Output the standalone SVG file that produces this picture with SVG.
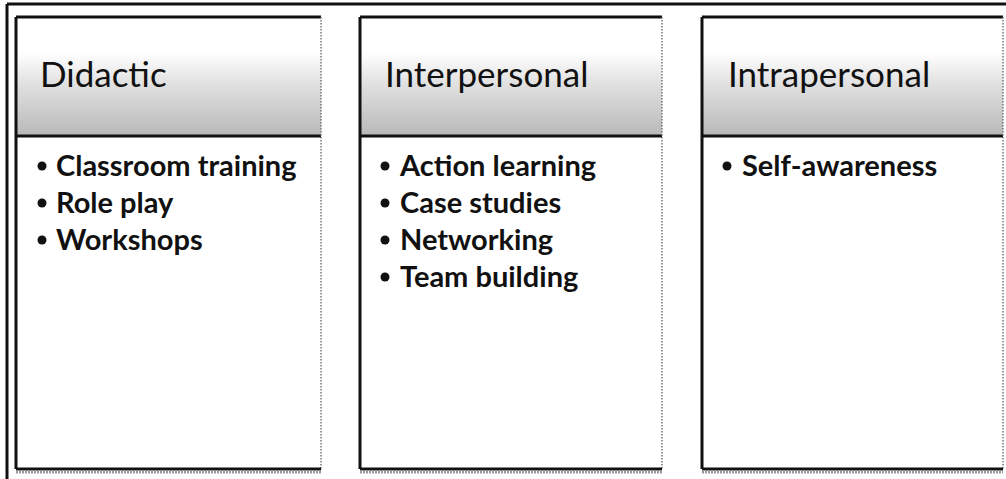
<svg xmlns="http://www.w3.org/2000/svg" width="1006" height="479" viewBox="0 0 1006 479">
<style>
.title{font-family:Lato,"Liberation Sans",sans-serif;font-size:35px;fill:#111}
.item{font-family:Lato,"Liberation Sans",sans-serif;font-size:29px;font-weight:bold;fill:#111}
.edge{stroke:#111;stroke-width:3;fill:none}
.side{stroke:#777;stroke-width:1.5;stroke-dasharray:1.5 1.5;fill:none}
.shadow{stroke:#999;stroke-width:3;stroke-dasharray:2 1;fill:none}
.bullet{fill:#111}
</style>
<defs>
<linearGradient id="hdr" x1="0" y1="0" x2="0" y2="1">
<stop offset="0" stop-color="#ffffff"/>
<stop offset="0.3" stop-color="#ffffff"/>
<stop offset="0.55" stop-color="#e2e2e2"/>
<stop offset="1" stop-color="#b8b8b8"/>
</linearGradient>
</defs>
<g id="frame">
<line x1="7" y1="4" x2="1006" y2="4" class="edge" stroke-width="2.5"/>
<line x1="7" y1="4" x2="7" y2="479" class="edge" stroke-width="2.5"/>
</g>
<g id="didactic">
<rect x="16" y="17" width="305" height="119" fill="url(#hdr)"/>
<rect x="16" y="136" width="305" height="333" fill="#fff"/>
<line x1="16" y1="17" x2="321" y2="17" class="edge"/>
<line x1="16" y1="17" x2="16" y2="469" class="edge"/>
<line x1="16" y1="136" x2="321" y2="136" class="edge"/>
<line x1="321" y1="17" x2="321" y2="469" class="side"/>
<line x1="16" y1="469" x2="321" y2="469" class="edge"/>
<line x1="16" y1="472" x2="321" y2="472" class="shadow"/>
<text x="40" y="87" class="title">Didactic</text>
<circle cx="42" cy="166" r="4.5" class="bullet"/>
<text x="56" y="176" class="item">Classroom training</text>
<circle cx="42" cy="203" r="4.5" class="bullet"/>
<text x="56" y="213" class="item">Role play</text>
<circle cx="42" cy="240" r="4.5" class="bullet"/>
<text x="56" y="250" class="item">Workshops</text>
</g>
<g id="interpersonal">
<rect x="360" y="17" width="302" height="119" fill="url(#hdr)"/>
<rect x="360" y="136" width="302" height="333" fill="#fff"/>
<line x1="360" y1="17" x2="662" y2="17" class="edge"/>
<line x1="360" y1="17" x2="360" y2="469" class="edge"/>
<line x1="360" y1="136" x2="662" y2="136" class="edge"/>
<line x1="662" y1="17" x2="662" y2="469" class="side"/>
<line x1="360" y1="469" x2="662" y2="469" class="edge"/>
<line x1="360" y1="472" x2="662" y2="472" class="shadow"/>
<text x="385" y="87" class="title">Interpersonal</text>
<circle cx="385" cy="166" r="4.5" class="bullet"/>
<text x="400" y="176" class="item">Action learning</text>
<circle cx="385" cy="203" r="4.5" class="bullet"/>
<text x="400" y="213" class="item">Case studies</text>
<circle cx="385" cy="240" r="4.5" class="bullet"/>
<text x="400" y="250" class="item">Networking</text>
<circle cx="385" cy="277" r="4.5" class="bullet"/>
<text x="400" y="287" class="item">Team building</text>
</g>
<g id="intrapersonal">
<rect x="702" y="17" width="301" height="119" fill="url(#hdr)"/>
<rect x="702" y="136" width="301" height="333" fill="#fff"/>
<line x1="702" y1="17" x2="1003" y2="17" class="edge"/>
<line x1="702" y1="17" x2="702" y2="469" class="edge"/>
<line x1="702" y1="136" x2="1003" y2="136" class="edge"/>
<line x1="1003" y1="17" x2="1003" y2="469" class="side"/>
<line x1="702" y1="469" x2="1003" y2="469" class="edge"/>
<line x1="702" y1="472" x2="1003" y2="472" class="shadow"/>
<text x="728" y="87" class="title">Intrapersonal</text>
<circle cx="727" cy="166" r="4.5" class="bullet"/>
<text x="742" y="176" class="item">Self-awareness</text>
</g>
<g id="connectors"/>
</svg>
